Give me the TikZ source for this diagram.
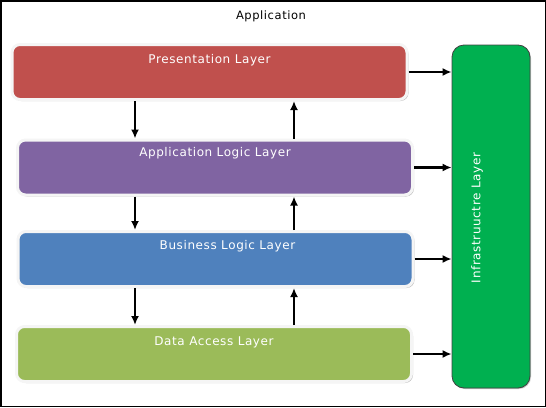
\documentclass[tikz,border=0pt]{standalone}
\usepackage{fontspec}
\setmainfont[LetterSpace=5]{DejaVu Sans}
\usetikzlibrary{arrows.meta}
\usetikzlibrary{shadows}
\usetikzlibrary{calc}

\definecolor{presred}{HTML}{C0504D}
\definecolor{applogic}{HTML}{8064A2}
\definecolor{buslogic}{HTML}{4F81BD}
\definecolor{dataacc}{HTML}{9BBB59}
\definecolor{infragreen}{HTML}{00B050}

\tikzset{
  layer/.style={draw=gray!8, line width=3pt, rounded corners=8pt,
    minimum width=395pt, minimum height=55pt, inner sep=0pt,
    drop shadow={shadow xshift=1.5pt, shadow yshift=-1.5pt, fill=gray!70, opacity=.7}},
  lbl/.style={text=white, font=\fontsize{12}{14}\selectfont, inner sep=1pt},
  arr/.style={-{Latex[length=9pt,width=8pt]}, line width=2.2pt}
}

\begin{document}
\begin{tikzpicture}[x=1pt, y=-1pt, >=latex]
      \useasboundingbox (0,0) rectangle (546,407);
      \draw[line width=1.5pt] (0.75,0.75) rectangle (545.25,406.25);
      \node[font=\fontsize{11.5}{13}\selectfont] (title) at (271,16) {Application};

      \node[layer, fill=presred]  (pres) at (209.5,72)  {};
      \node[layer, fill=applogic] (app)  at (215,167.5) {};
      \node[layer, fill=buslogic] (bus)  at (215.5,259) {};
      \node[layer, fill=dataacc]  (data) at (214,354)   {};
      \node[draw=black!75, line width=0.8pt, fill=infragreen, rounded corners=12pt,
            minimum width=78pt, minimum height=343pt,
            drop shadow={shadow xshift=1pt, shadow yshift=-1pt, fill=gray!70, opacity=.6}]
            (infra) at (491,216.5) {};

      \node[lbl] (pres-t) at ([yshift=-17pt]pres.north) {Presentation Layer};
      \node[lbl] (app-t)  at ([yshift=-15pt]app.north)  {Application Logic Layer};
      \node[lbl] (bus-t)  at ([xshift=12pt, yshift=-16pt]bus.north) {Business Logic Layer};
      \node[lbl] (data-t) at ([yshift=-17pt]data.north) {Data Access Layer};
      \node[lbl, rotate=90] (infra-t) at (477,218) {Infrastruuctre Layer};

      \coordinate (down) at (135,0);
      \coordinate (up)   at (294,0);
      \draw[arr] (pres.south -| down) -- (app.north -| down);
      \draw[arr] (app.south -| down)  -- (bus.north -| down);
      \draw[arr] (bus.south -| down)  -- (data.north -| down);
      \draw[arr] (app.north -| up)    -- (pres.south -| up);
      \draw[arr] (bus.north -| up)    -- (app.south -| up);
      \draw[arr] (data.north -| up)   -- (bus.south -| up);

      \draw[arr] (pres.east) -- (pres.east -| infra.west);
      \draw[arr] (app.east)  -- (app.east -| infra.west);
      \draw[arr] (bus.east)  -- (bus.east -| infra.west);
      \draw[arr] (data.east) -- (data.east -| infra.west);
    \end{tikzpicture}
\end{document}
